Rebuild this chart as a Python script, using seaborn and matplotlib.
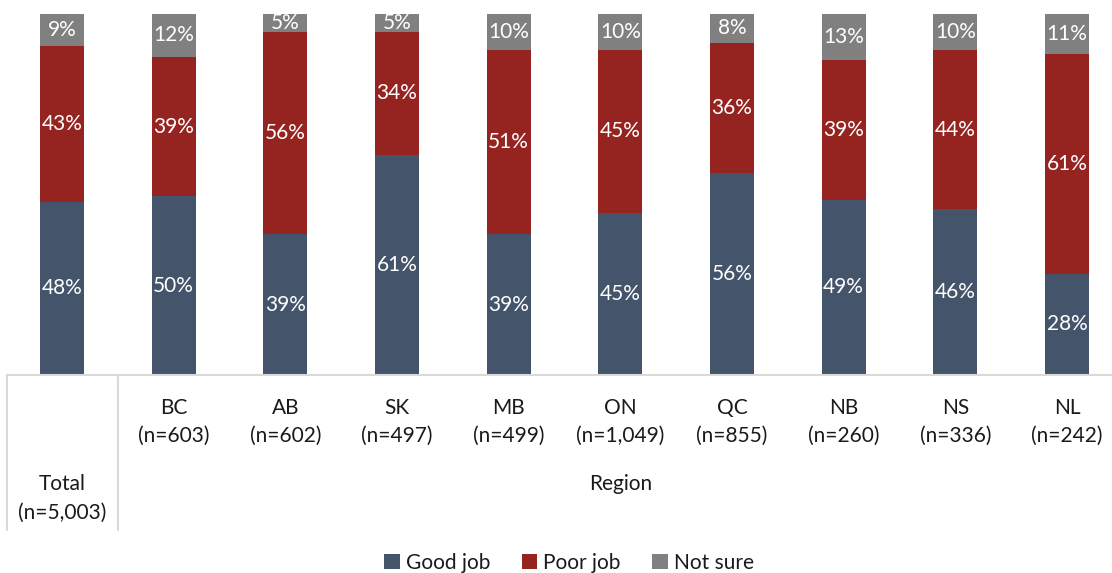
import matplotlib
matplotlib.use("Agg")
import matplotlib.pyplot as plt
import matplotlib.transforms as mtransforms
from matplotlib.patches import Patch
from matplotlib.lines import Line2D
import seaborn as sns
import pandas as pd
import numpy as np

sns.set_theme(style="white")
plt.rcParams['font.family'] = ['Lato', 'DejaVu Sans']

categories = ["Total", "BC", "AB", "SK", "MB", "ON", "QC", "NB", "NS", "NL"]
sample_sizes = ["n=5,003", "n=603", "n=602", "n=497", "n=499", "n=1,049", "n=855", "n=260", "n=336", "n=242"]
good_job = [48, 50, 39, 61, 39, 45, 56, 49, 46, 28]
poor_job = [43, 39, 56, 34, 51, 45, 36, 39, 44, 61]
not_sure = [9, 12, 5, 5, 10, 10, 8, 13, 10, 11]
series_names = ["Good job", "Poor job", "Not sure"]
colors = ["#44546A", "#952421", "#808080"]

df = pd.DataFrame({"cat": categories, "Good job": good_job, "Poor job": poor_job, "Not sure": not_sure})
tot = df[series_names].sum(axis=1)
shares = df[series_names].div(tot, axis=0) * 100

W, H = 1112, 573
FS = 15
TXT = "#1a1a1a"
fig = plt.figure(figsize=(W / 100, H / 100), dpi=100)
ax = fig.add_axes([7 / W, (H - 375) / H, (W - 7) / W, 361 / H])

bottom = np.zeros(len(df))
for name, col in zip(series_names, colors):
    plot_df = pd.DataFrame({"cat": categories, "val": shares[name].values})
    sns.barplot(data=plot_df, x="cat", y="val", color=col, bottom=bottom,
                width=0.394, ax=ax, saturation=1, linewidth=0, order=categories)
    for i, (v, lab) in enumerate(zip(shares[name].values, df[name].values)):
        ax.text(i, bottom[i] + v / 2, f"{lab}%", ha="center", va="center",
                color="white", fontsize=FS)
    bottom = bottom + shares[name].values

ax.set_xlim(-0.4925, 9.4025)
ax.set_ylim(0, 100)
ax.set_xlabel("")
ax.set_ylabel("")
ax.set_xticks([])
ax.set_yticks([])
for s in ["top", "right", "left"]:
    ax.spines[s].set_visible(False)
ax.spines["bottom"].set_color("#D9D9D9")
ax.spines["bottom"].set_linewidth(1.5)

trans = mtransforms.blended_transform_factory(ax.transData, fig.transFigure)
def fy(py):
    return 1 - py / H

for i, (c, n) in enumerate(zip(categories, sample_sizes)):
    y1, y2 = (484, 513) if i == 0 else (408, 436)
    ax.text(i, fy(y1), c, transform=trans, ha="center", va="center", fontsize=FS, color=TXT, clip_on=False)
    ax.text(i, fy(y2), f"({n})", transform=trans, ha="center", va="center", fontsize=FS, color=TXT, clip_on=False)

ax.text(5.0, fy(484), "Region", transform=trans, ha="center", va="center", fontsize=FS, color=TXT, clip_on=False)

for px in [7, 118]:
    fig.add_artist(Line2D([px / W, px / W], [fy(375), fy(530)], color="#D9D9D9", lw=1.5))

handles = [Patch(facecolor=c, edgecolor="none") for c in colors]
fig.legend(handles, series_names, loc="center", bbox_to_anchor=(569 / W, fy(563)), ncol=3,
           frameon=False, fontsize=FS, handlelength=0.75, handleheight=0.75, handletextpad=0.3,
           columnspacing=1.5, labelcolor=TXT)

fig.savefig("out.png", dpi=100)
